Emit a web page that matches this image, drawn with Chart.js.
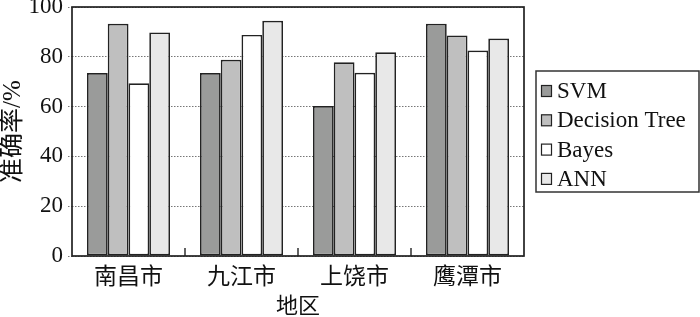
<!DOCTYPE html>
<html>
<head>
<meta charset="utf-8">
<script src="https://cdn.jsdelivr.net/npm/chart.js@4/dist/chart.umd.min.js"></script>
<style>
  html, body { margin: 0; padding: 0; background: #fff; }
  #wrap { width: 700px; height: 317px; }
</style>
</head>
<body>
<div id="wrap"><canvas id="chart" width="700" height="317"></canvas></div>
<script>
const regions = ["南昌市", "九江市", "上饶市", "鹰潭市"];
const seriesNames = ["SVM", "Decision Tree", "Bayes", "ANN"];
const svmValues = [73.5, 73.5, 60.2, 93.3];
const treeValues = [93.3, 78.8, 77.8, 88.6];
const bayesValues = [69.4, 88.8, 73.6, 82.5];
const annValues = [89.8, 94.5, 81.8, 87.3];
const yTicks = [0, 20, 40, 60, 80, 100];
const fills = ["#9a9b9a", "#bfbfbf", "#ffffff", "#e8e8e8"];

const serif = "'Liberation Serif', 'DejaVu Serif', serif";
const cjk = "'Noto Sans CJK SC', sans-serif";

// frame round the plot, little inward ticks between the groups, boxed legend
const framePlugin = {
  id: "frame",
  afterDatasetsDraw(chart) {
    const { ctx, chartArea: a, scales: { x } } = chart;
    ctx.save();
    ctx.strokeStyle = "#222";
    ctx.lineWidth = 1.7;
    ctx.strokeRect(a.left, a.top, a.right - a.left, a.bottom - a.top);
    ctx.lineWidth = 1.4;
    for (let i = 1; i < regions.length; i++) {
      const px = (x.getPixelForValue(i - 1) + x.getPixelForValue(i)) / 2;
      ctx.beginPath();
      ctx.moveTo(px, a.bottom);
      ctx.lineTo(px, a.bottom - 8);
      ctx.stroke();
    }
    ctx.restore();
  },
  afterDraw(chart) {
    const { ctx } = chart;
    const box = { left: 536, top: 71, right: 699, bottom: 192 };
    ctx.save();
    ctx.strokeStyle = "#333";
    ctx.lineWidth = 1.5;
    ctx.strokeRect(box.left, box.top, box.right - box.left, box.bottom - box.top);
    ctx.font = "23px " + serif;
    ctx.textBaseline = "middle";
    chart.data.datasets.forEach((ds, i) => {
      const cy = 91 + i * 29.3;
      ctx.fillStyle = ds.backgroundColor;
      ctx.fillRect(541.5, cy - 5.5, 10, 11);
      ctx.lineWidth = 1.2;
      ctx.strokeStyle = "#222";
      ctx.strokeRect(541.5, cy - 5.5, 10, 11);
      ctx.fillStyle = "#111";
      ctx.fillText(ds.label, 557, cy + 1);
    });
    ctx.restore();
  }
};

function makeDataset(label, values, i) {
  return {
    label,
    data: values,
    backgroundColor: fills[i],
    borderColor: "#222",
    borderWidth: 1.7,
    borderSkipped: false,
    categoryPercentage: 0.735,
    barPercentage: 1
  };
}

function bootChart() {
  const allValues = [svmValues, treeValues, bayesValues, annValues];
  new Chart(document.getElementById("chart"), {
    type: "bar",
    data: {
      labels: regions,
      datasets: seriesNames.map((name, i) => makeDataset(name, allValues[i], i))
    },
    options: {
      responsive: false,
      animation: false,
      layout: { padding: { left: 0, right: 176, top: 7, bottom: 0 } },
      plugins: { legend: { display: false }, tooltip: { enabled: false } },
      scales: {
        x: {
          grid: { display: false, drawTicks: false, tickLength: 0 },
          border: { display: false },
          ticks: { color: "#111", font: { family: cjk, size: 23 }, padding: 5 },
          title: { display: true, text: "地区", color: "#111", font: { family: cjk, size: 22, lineHeight: 1 }, padding: { top: 0, bottom: 1 } },
          afterFit(s) { s.height = 61; }
        },
        y: {
          min: 0,
          max: 100,
          afterBuildTicks(s) { s.ticks = yTicks.map((v) => ({ value: v })); },
          grid: { color: "#777", lineWidth: 1, tickLength: 4, tickBorderDash: [1.5, 1.5] },
          border: { display: false, dash: [1.5, 1.5] },
          ticks: { color: "#111", font: { family: serif, size: 23 }, padding: 5 },
          title: { display: true, text: "准确率/%", color: "#111", font: { family: serif.replace("serif", "'Noto Sans CJK SC', serif"), size: 25, lineHeight: 1.1 }, padding: { top: 0, bottom: 0 } },
          afterFit(s) { s.width = 72; s.paddingTop = 0; s.paddingBottom = 0; }
        }
      }
    },
    plugins: [framePlugin]
  });
}

document.addEventListener("DOMContentLoaded", bootChart);
</script>
</body>
</html>
